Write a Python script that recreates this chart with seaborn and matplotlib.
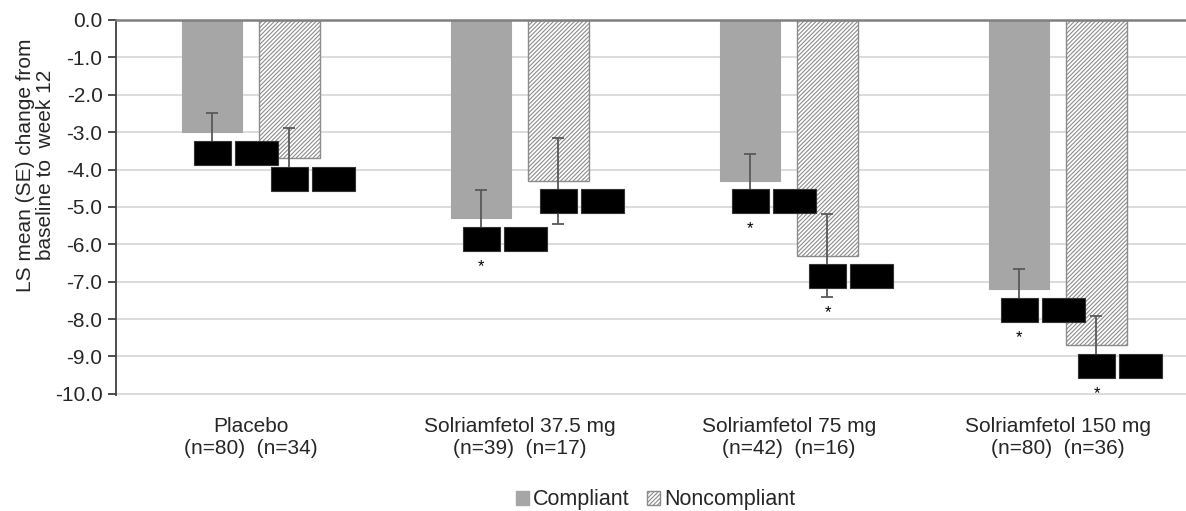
import matplotlib
matplotlib.use("Agg")
import matplotlib.pyplot as plt
import seaborn as sns
import pandas as pd
import numpy as np
from matplotlib.patches import Rectangle, Patch

categories = ["Placebo", "Solriamfetol 37.5 mg", "Solriamfetol 75 mg", "Solriamfetol 150 mg"]
n_compliant = [80, 39, 42, 80]
n_noncompliant = [34, 17, 16, 36]
groups = ["Compliant", "Noncompliant"]
compliant_mean = [-3.0, -5.3, -4.3, -7.2]
noncompliant_mean = [-3.7, -4.3, -6.3, -8.7]
compliant_se = [0.5, 0.75, 0.72, 0.55]
noncompliant_se = [0.8, 1.15, 1.1, 0.78]
compliant_sig = [False, True, True, True]
noncompliant_sig = [False, False, True, True]
y_ticks = [0, -1, -2, -3, -4, -5, -6, -7, -8, -9, -10]

sns.set_theme(style="white")
plt.rcParams['font.family'] = ['Liberation Sans', 'DejaVu Sans']
plt.rcParams['axes.unicode_minus'] = False
plt.rcParams['hatch.linewidth'] = 0.8

df = pd.DataFrame({
    "cat": categories * 2,
    "group": [groups[0]] * 4 + [groups[1]] * 4,
    "mean": compliant_mean + noncompliant_mean,
})

fig = plt.figure(figsize=(11.86, 5.11), dpi=100)
ax = fig.add_axes([0.0982, 0.227, 0.9018, 0.7339])

sns.barplot(data=df, x="cat", y="mean", hue="group", hue_order=groups,
            order=categories,
            palette={"Compliant": "#a6a6a6", "Noncompliant": "white"},
            saturation=1, width=0.573, gap=0.22, errorbar=None,
            legend=False, ax=ax, zorder=2)

comp_bars = ax.containers[0]
non_bars = ax.containers[1]
for b in comp_bars:
    b.set_edgecolor("#a6a6a6")
    b.set_linewidth(0.8)
for b in non_bars:
    b.set_edgecolor("#8c8c8c")
    b.set_hatch("////////")
    b.set_linewidth(1.0)

series = [
    (comp_bars, compliant_mean, compliant_se, compliant_sig),
    (non_bars, noncompliant_mean, noncompliant_se, noncompliant_sig),
]
for bars, means, ses, sigs in series:
    xs = [b.get_x() + b.get_width() / 2 for b in bars]
    ax.errorbar(xs, means, yerr=ses, fmt="none", ecolor="#595959",
                elinewidth=1.3, capsize=4, capthick=1.3, zorder=3)
    for x, m, s, sig in zip(xs, means, ses, sigs):
        yc = m - 0.55
        ax.add_patch(Rectangle((x - 0.069, yc - 0.32), 0.1375, 0.64,
                               facecolor="black", edgecolor="#333333",
                               linewidth=0.8, zorder=5))
        ax.add_patch(Rectangle((x + 0.084, yc - 0.32), 0.16, 0.64,
                               facecolor="black", edgecolor="#333333",
                               linewidth=0.8, zorder=5))
        if sig:
            ax.text(x, m - max(s, 0.87) - 0.42, "*", ha="center", va="center",
                    fontsize=12, color="black", zorder=6)

ax.set_xlim(-0.5, 3.476)
ax.set_ylim(-10.03, 0)
ax.set_yticks(y_ticks)
ax.set_yticklabels([f"{v:.1f}" for v in y_ticks], fontsize=15, color="#262626")
ax.set_xticks(range(len(categories)))
ax.set_xticklabels([f"{c}\n(n={a})  (n={b})" for c, a, b in
                    zip(categories, n_compliant, n_noncompliant)],
                   fontsize=15, color="#262626", linespacing=1.2)
ax.tick_params(axis="x", length=0, pad=16)
ax.tick_params(axis="y", left=True, length=6, width=1.3, color="#404040", pad=4)
ax.set_xlabel("")
ax.set_ylabel("")

ax.yaxis.grid(True, color="#d9d9d9", linewidth=1.3, zorder=0)
ax.set_axisbelow(True)
for side in ["right", "bottom"]:
    ax.spines[side].set_visible(False)
ax.spines["top"].set_color("#7f7f7f")
ax.spines["top"].set_linewidth(1.8)
ax.spines["top"].set_zorder(4)
ax.spines["left"].set_color("#404040")
ax.spines["left"].set_linewidth(1.3)

fig.text(0.030, 0.677, "LS mean (SE) change from\nbaseline to  week 12",
         rotation=90, ha="center", va="center", fontsize=15, color="#262626",
         linespacing=1.1)

handles = [Patch(facecolor="#a6a6a6", edgecolor="#a6a6a6"),
           Patch(facecolor="white", edgecolor="#8c8c8c", hatch="////////")]
fig.legend(handles, groups, loc="center", bbox_to_anchor=(0.553, 0.022),
           ncol=2, frameon=False, fontsize=15.5, handlelength=0.6,
           handleheight=0.6, handletextpad=0.2, columnspacing=0.8,
           labelcolor="#262626", borderpad=0)

fig.savefig("out.png", dpi=100)
